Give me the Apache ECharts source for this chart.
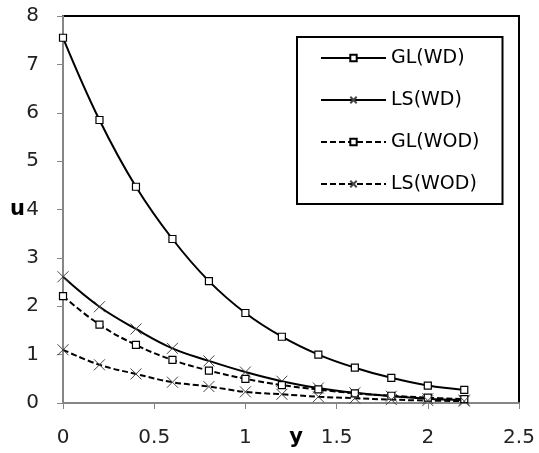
<!DOCTYPE html>
<html><head><meta charset="utf-8">
<script src="https://cdn.jsdelivr.net/npm/echarts@6/dist/echarts.min.js"></script>
<style>html,body{margin:0;padding:0;background:#fff}#c{width:539px;height:453px}</style>
</head><body><div id="c"></div>
<script>
const xValues = [0, 0.2, 0.4, 0.6, 0.8, 1.0, 1.2, 1.4, 1.6, 1.8, 2.0, 2.2];
const glWD  = [7.55, 5.85, 4.47, 3.39, 2.52, 1.86, 1.37, 1.00, 0.73, 0.52, 0.36, 0.27];
const lsWD  = [2.61, 1.99, 1.53, 1.13, 0.87, 0.64, 0.45, 0.31, 0.21, 0.14, 0.09, 0.06];
const glWOD = [2.21, 1.62, 1.20, 0.89, 0.67, 0.50, 0.37, 0.28, 0.20, 0.15, 0.11, 0.08];
const lsWOD = [1.10, 0.79, 0.60, 0.43, 0.34, 0.23, 0.18, 0.13, 0.10, 0.07, 0.05, 0.04];
const seriesNames = ['GL(WD)', 'LS(WD)', 'GL(WOD)', 'LS(WOD)'];
const xTicks = [0, 0.5, 1, 1.5, 2, 2.5];
const yTicks = [0, 1, 2, 3, 4, 5, 6, 7, 8];

const FONT = 'DejaVu Sans';
const crossPath = 'path://M0,0L10,10M10,0L0,10';
function pairs(vals){ return xValues.map((x,i)=>[x, vals[i]]); }
function mk(name, vals, isSquare, dashed){
  return {
    name, type:'line', smooth:0.4, data: pairs(vals),
    symbol: isSquare ? 'rect' : crossPath,
    symbolSize: isSquare ? 7 : 11,
    showAllSymbol:true,
    lineStyle:{color:'#000', width:2, type: dashed ? [6,3] : 'solid'},
    itemStyle: isSquare ? {color:'#fff', borderColor:'#000', borderWidth:1.2}
                        : {color:'#000', borderColor:'#444', borderWidth:1},
    emphasis:{disabled:true}, animation:false
  };
}
const chart = echarts.init(document.getElementById('c'), null, {renderer:'canvas'});
chart.setOption({
  animation:false,
  backgroundColor:'#fff',
  grid:{left:63, right:20, top:16, bottom:50, outerBoundsMode:'none', containLabel:false,
    show:true, borderColor:'#000', borderWidth:2, backgroundColor:'transparent'},
  xAxis:{type:'value', min:xTicks[0], max:xTicks[xTicks.length-1], interval:0.5,
    name:'y', nameLocation:'middle', nameGap:24, nameMoveOverlap:false,
    nameTextStyle:{fontFamily:FONT, fontSize:21, fontWeight:'bold', color:'#000', padding:[0,0,0,10]},
    axisLine:{show:true, lineStyle:{color:'#868686', width:2}},
    axisTick:{show:true, length:6, lineStyle:{color:'#868686'}},
    axisLabel:{fontFamily:FONT, fontSize:20, color:'#222', margin:25},
    splitLine:{show:false}},
  yAxis:{type:'value', min:yTicks[0], max:yTicks[yTicks.length-1], interval:1,
    name:'u', nameLocation:'middle', nameGap:38, nameRotate:0, nameMoveOverlap:false,
    nameTextStyle:{fontFamily:FONT, fontSize:21, fontWeight:'bold', color:'#000'},
    axisLine:{show:true, lineStyle:{color:'#868686', width:2}},
    axisTick:{show:true, length:6, lineStyle:{color:'#868686'}},
    axisLabel:{fontFamily:FONT, fontSize:20, color:'#222', margin:24},
    splitLine:{show:false}},
  legend:{orient:'vertical', left:297, top:37, data:seriesNames,
    itemWidth:65, itemHeight:8, itemGap:22,
    padding:[11,23,10,23], borderColor:'#000', borderWidth:2,
    textStyle:{fontFamily:FONT, fontSize:19, color:'#000', lineHeight:20}},
  series:[
    mk(seriesNames[0], glWD, true, false),
    mk(seriesNames[1], lsWD, false, false),
    mk(seriesNames[2], glWOD, true, true),
    mk(seriesNames[3], lsWOD, false, true)
  ]
});
</script></body></html>
